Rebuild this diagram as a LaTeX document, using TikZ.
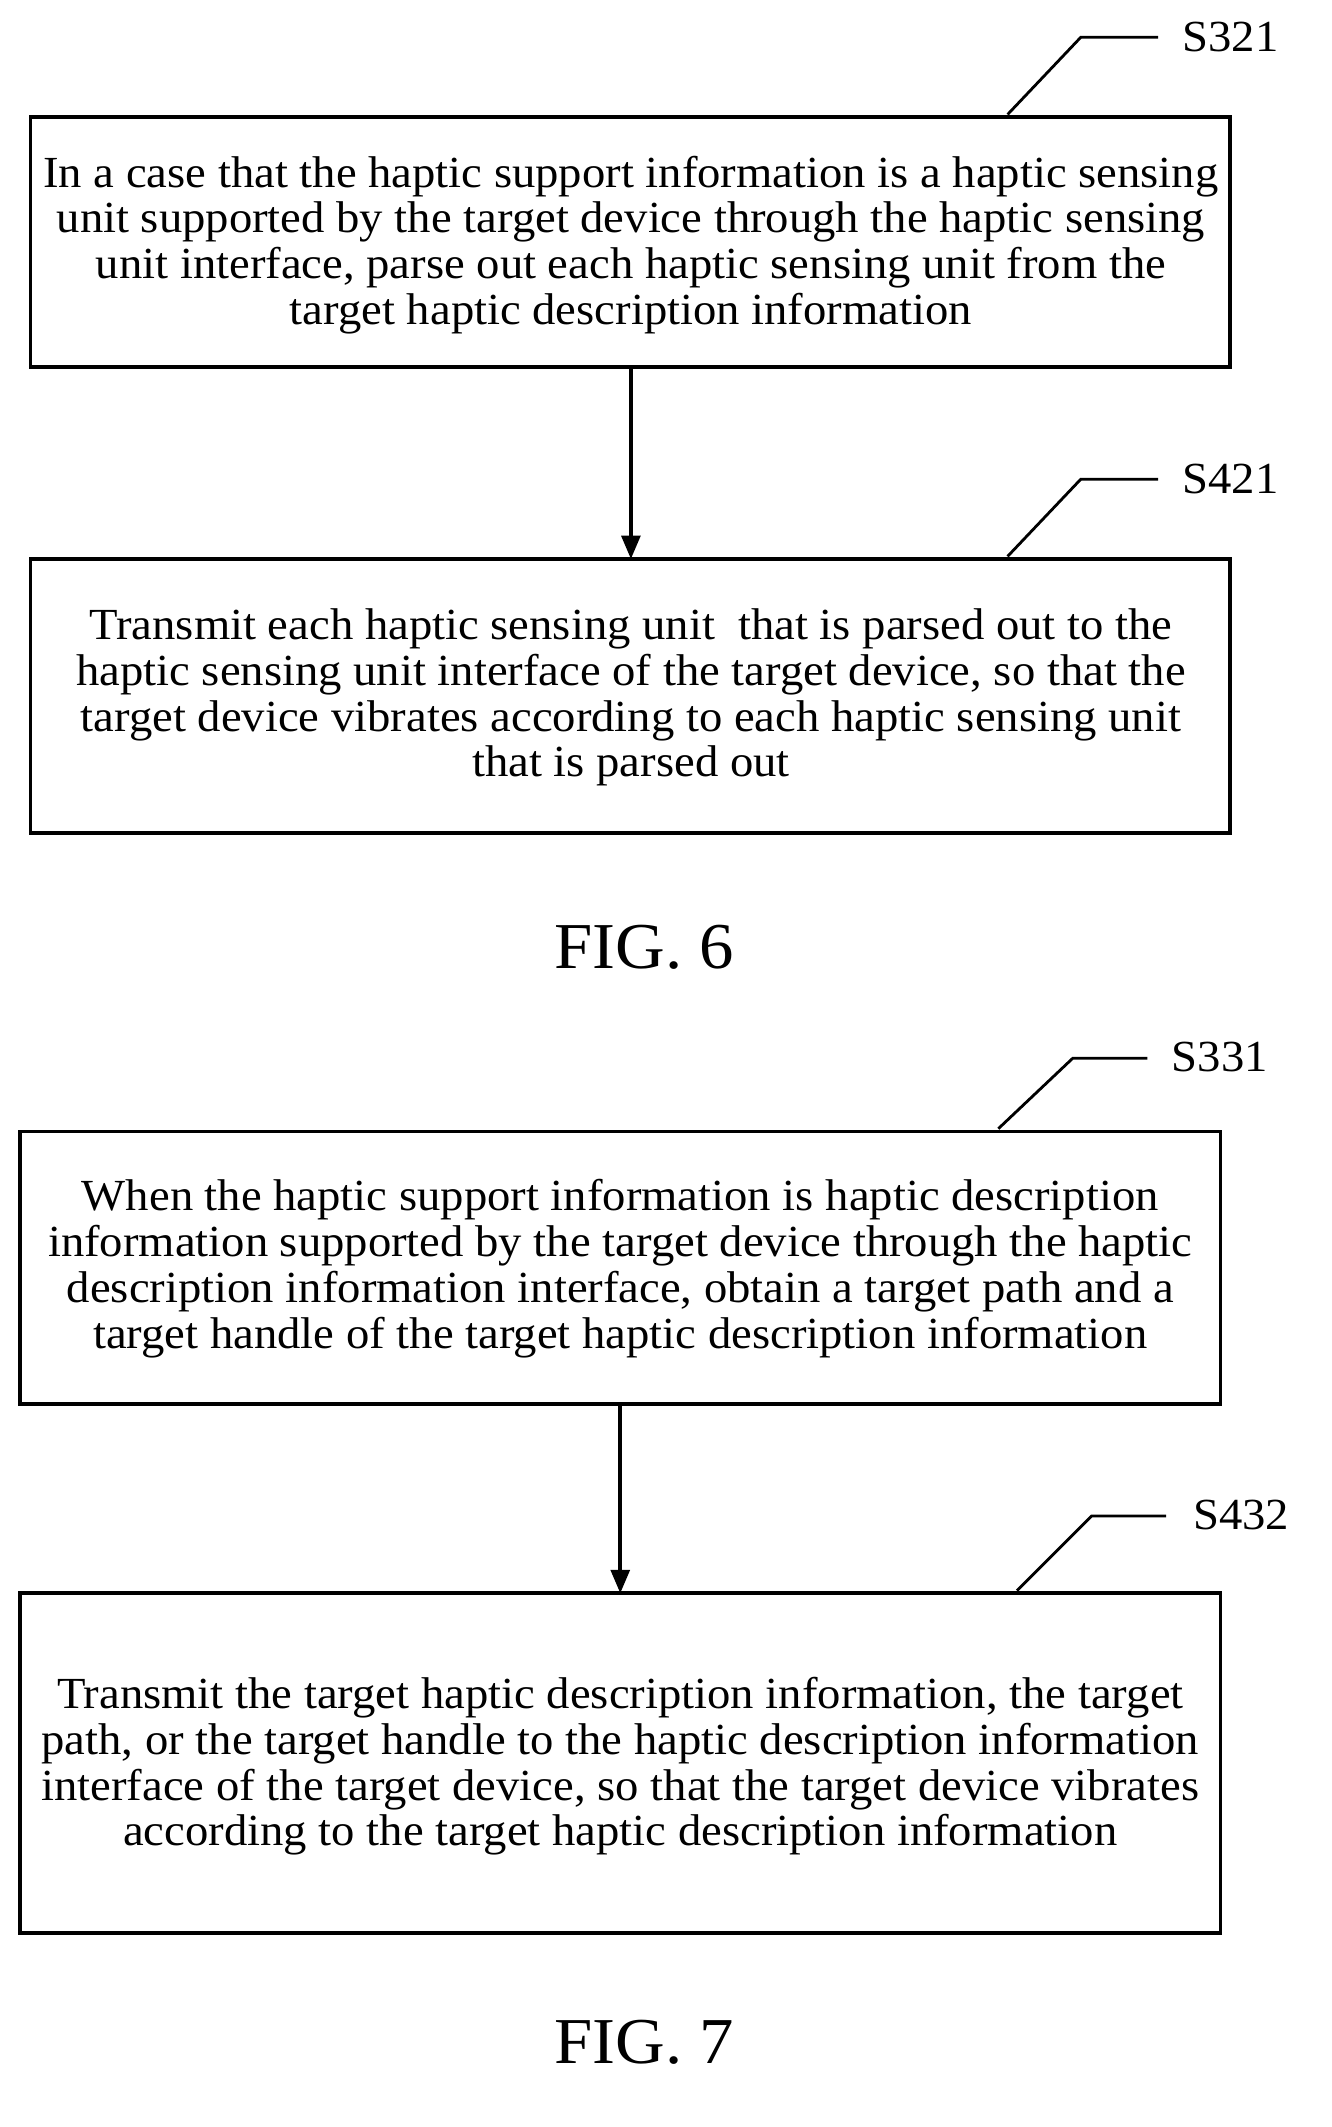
\documentclass[tikz,border=0pt]{standalone}
\usepackage{fontspec}
\setmainfont{Liberation Serif}[FakeStretch=1.05]
\usetikzlibrary{arrows.meta}
\tikzset{
  box/.style = {line width=1.6pt},
  stepText/.style = {align=center, font=\fontsize{19}{19.6}\selectfont, inner sep=0pt},
  flow/.style = {line width=1.6pt, -{Triangle[length=10pt,width=8pt]}},
  leader/.style = {line width=1.2pt},
  tag/.style = {anchor=west, font=\fontsize{19}{19}\selectfont, inner sep=0pt},
  caption/.style = {font=\fontsize{28}{30}\selectfont}
}
\begin{document}
\begin{tikzpicture}[x=0.02cm,y=-0.02cm]
    \useasboundingbox (0,0) rectangle (1000,1598);

    % FIG. 6
    \draw[box] (23,88) rectangle (924,276);
    \node[stepText] (s321) at (474,184) {In a case that the haptic support information is a haptic sensing\\unit supported by the target device through the haptic sensing\\unit interface, parse out each haptic sensing unit from the\\target haptic description information};
    \draw[box] (23,420) rectangle (924,626);
    \node[stepText] (s421) at (474,524) {Transmit each haptic sensing unit\ \ that is parsed out to the\\haptic sensing unit interface of the target device, so that the\\target device vibrates according to each haptic sensing unit\\that is parsed out};
    \coordinate (a1) at (474,276);
    \coordinate (a2) at (474,420);
    \draw[flow] (a1) -- (a2);

    \node[tag] (t321) at (888,28) {S321};
    \draw[leader] (757,86) -- (812,28) -- (870,28);
    \node[tag] (t421) at (888,360) {S421};
    \draw[leader] (757,418) -- (812,360) -- (870,360);

    \node[caption] (fig6) at (484,712) {FIG. 6};

    % FIG. 7
    \draw[box] (15,850) rectangle (917,1055);
    \node[stepText] (s331) at (466,953) {When the haptic support information is haptic description\\information supported by the target device through the haptic\\description information interface, obtain a target path and a\\target handle of the target haptic description information};
    \draw[box] (15,1197) rectangle (917,1452);
    \node[stepText] (s432) at (466,1327) {Transmit the target haptic description information, the target\\path, or the target handle to the haptic description information\\interface of the target device, so that the target device vibrates\\according to the target haptic description information};
    \coordinate (b1) at (466,1055);
    \coordinate (b2) at (466,1197);
    \draw[flow] (b1) -- (b2);

    \node[tag] (t331) at (880,794) {S331};
    \draw[leader] (750,848) -- (806,795) -- (862,795);
    \node[tag] (t432) at (896,1138) {S432};
    \draw[leader] (764,1195) -- (820,1139) -- (876,1139);

    \node[caption] (fig7) at (484,1534) {FIG. 7};
\end{tikzpicture}
\end{document}
